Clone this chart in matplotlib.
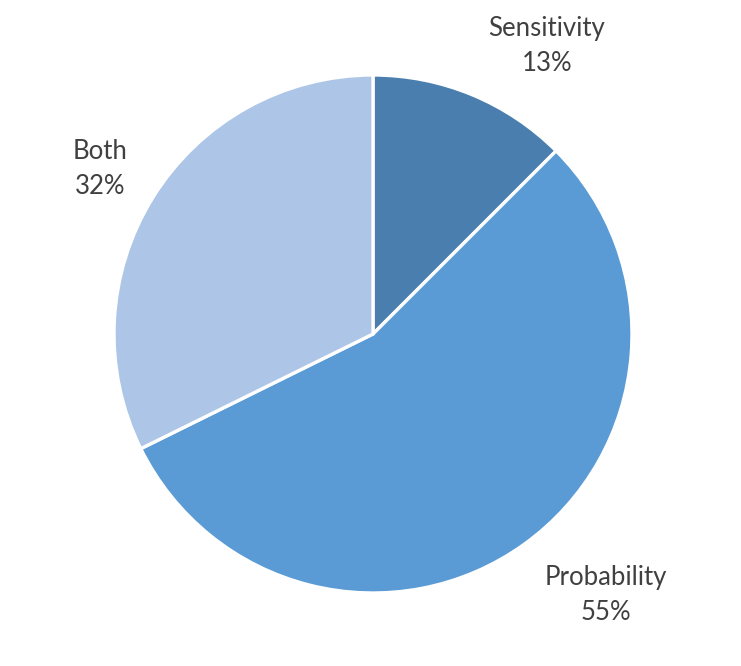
import matplotlib
matplotlib.use("Agg")
import matplotlib.pyplot as plt
import math

categories = ["Sensitivity", "Probability", "Both"]
values = [12.5, 55.2, 32.3]
pct_labels = ["13%", "55%", "32%"]
colors = ["#4A7EAE", "#5B9BD5", "#ADC5E6"]

# label placement (layout): angle in degrees, distance in radius units
label_angles = [58.9, -48.2, 148.9]
label_dist = [1.30, 1.35, 1.23]

W, H = 741, 666
fig = plt.figure(figsize=(W / 100, H / 100), dpi=100)
ax = fig.add_axes([0, 0, 1, 1])

cx, cy, r = 373, H - 334, 259
ax.pie(values, colors=colors, startangle=90, counterclock=False,
       center=(cx, cy), radius=r, frame=True,
       wedgeprops=dict(edgecolor="white", linewidth=2.4))
ax.set_xlim(0, W)
ax.set_ylim(0, H)
ax.set_aspect("equal")
ax.axis("off")

for cat, p, a, d in zip(categories, pct_labels, label_angles, label_dist):
    x = cx + r * d * math.cos(math.radians(a))
    y = cy + r * d * math.sin(math.radians(a))
    ax.text(x, y, f"{cat}\n{p}", ha="center", va="center",
            fontsize=18.5, color="#404040", family="Lato",
            linespacing=1.5)

fig.savefig("out.png", dpi=100)
